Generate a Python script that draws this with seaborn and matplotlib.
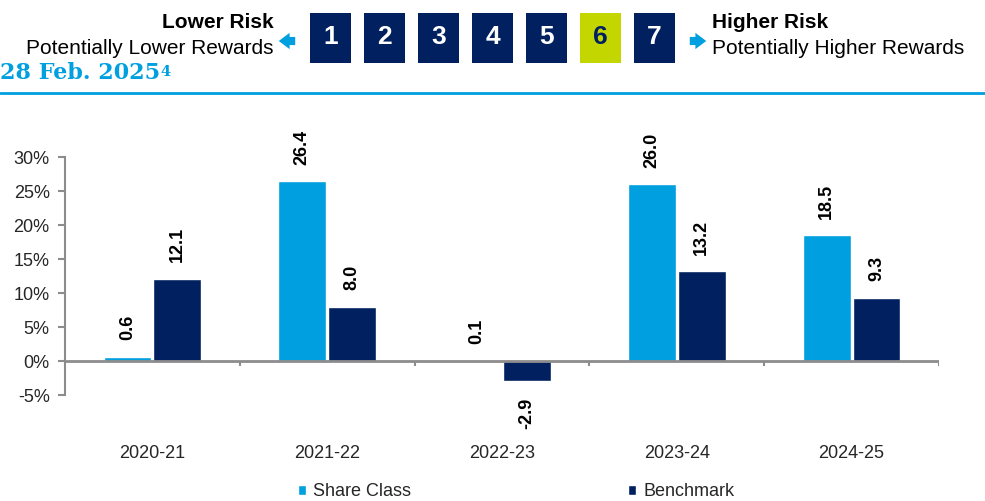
import pandas as pd
import matplotlib.pyplot as plt
import matplotlib.patches as patches
import matplotlib.ticker as mticker
import seaborn as sns

periods = ["2020-21", "2021-22", "2022-23", "2023-24", "2024-25"]
share_class = [0.6, 26.4, 0.1, 26.0, 18.5]
benchmark = [12.1, 8.0, -2.9, 13.2, 9.3]
series_names = ["Share Class", "Benchmark"]
risk_levels = [1, 2, 3, 4, 5, 6, 7]
fund_risk = 6

CYAN = "#009FDF"
NAVY = "#002060"
LIME = "#C4D600"
GREY = "#8C8C8C"

W, H = 985, 501

df = pd.DataFrame({
    "period": periods * 2,
    "value": share_class + benchmark,
    "series": [series_names[0]] * len(periods) + [series_names[1]] * len(periods),
})

sns.set_theme(style="white")
plt.rcParams["font.family"] = ["Liberation Sans", "DejaVu Sans"]

fig = plt.figure(figsize=(W / 100, H / 100), dpi=100)
ax = fig.add_axes([65 / W, 1 - 395 / H, 874 / W, (395 - 157) / H])

sns.barplot(
    data=df,
    x="period",
    y="value",
    hue="series",
    palette=[CYAN, NAVY],
    width=0.57,
    gap=0.04,
    saturation=1,
    ax=ax
)

for container in ax.containers:
    ax.bar_label(
        container,
        fmt="%.1f",
        rotation=90,
        padding=12,
        fontsize=13,
        fontweight="bold",
        color="black"
    )

ax.set_xlim(-0.5, len(periods) - 0.5)
ax.set_ylim(-5, 30)
ax.yaxis.set_major_locator(mticker.MultipleLocator(5))
ax.yaxis.set_major_formatter(mticker.FuncFormatter(lambda v, p: f"{v:.0f}%"))
ax.set_xlabel("")
ax.set_ylabel("")

for side in ["top", "right", "bottom"]:
    ax.spines[side].set_visible(False)
ax.spines["left"].set_color(GREY)
ax.spines["left"].set_linewidth(1.5)

ax.tick_params(axis="y", direction="out", length=5, width=1.5, color=GREY,
               labelsize=13, pad=6, left=True)
ax.tick_params(axis="x", length=0, labelsize=13, pad=36)

# zero line with category separators
ax.axhline(0, color=GREY, lw=2, zorder=3)
bounds = [i - 0.5 for i in range(len(periods) + 1)]
ax.vlines(bounds[1:], -0.8, 0, color=GREY, lw=1.5, zorder=3)

sns.move_legend(
    ax, "center",
    bbox_to_anchor=(516 / W, 1 - 492 / H),
    bbox_transform=fig.transFigure,
    ncol=2,
    frameon=False,
    title=None,
    fontsize=13,
    handlelength=0.45,
    handleheight=0.45,
    handletextpad=0.4,
    columnspacing=12
)

# header: risk scale
for i, lvl in enumerate(risk_levels):
    x0 = 310 + i * 54
    face = LIME if lvl == fund_risk else NAVY
    txt = NAVY if lvl == fund_risk else "white"
    fig.add_artist(patches.Rectangle(
        (x0 / W, 1 - 63 / H), 41 / W, 50 / H,
        transform=fig.transFigure, facecolor=face, edgecolor="none"
    ))
    fig.text((x0 + 20.5) / W, 1 - 37 / H, str(lvl), ha="center", va="center",
             fontsize=19, fontweight="bold", color=txt)

fig.text(274 / W, 1 - 23 / H, "Lower Risk", ha="right", va="center",
         fontsize=15, fontweight="bold", color="black")
fig.text(274 / W, 1 - 48 / H, "Potentially Lower Rewards", ha="right", va="center",
         fontsize=15, color="black")
fig.text(712 / W, 1 - 23 / H, "Higher Risk", ha="left", va="center",
         fontsize=15, fontweight="bold", color="black")
fig.text(712 / W, 1 - 48 / H, "Potentially Higher Rewards", ha="left", va="center",
         fontsize=15, color="black")

arrow_style = "simple,head_width=0.9,head_length=0.6,tail_width=0.45"
ax.annotate("", xy=(276, H - 41), xytext=(298, H - 41),
            xycoords="figure pixels", textcoords="figure pixels",
            arrowprops=dict(arrowstyle=arrow_style, color=CYAN, mutation_scale=13, lw=0),
            annotation_clip=False)
ax.annotate("", xy=(709, H - 41), xytext=(687, H - 41),
            xycoords="figure pixels", textcoords="figure pixels",
            arrowprops=dict(arrowstyle=arrow_style, color=CYAN, mutation_scale=13, lw=0),
            annotation_clip=False)

date_txt = fig.text(0, 1 - 73 / H, "28 Feb. 2025", ha="left", va="center",
                    fontsize=16, fontweight="bold", color=CYAN, family="DejaVu Serif")
ax.annotate("4", xy=(1, 0.85), xycoords=date_txt, xytext=(0.5, 0),
            textcoords="offset points", ha="left", va="top",
            fontsize=10.5, fontweight="bold", color=CYAN, family="DejaVu Serif",
            annotation_clip=False)

fig.add_artist(plt.Line2D([0, 1], [1 - 93 / H, 1 - 93 / H],
                          transform=fig.transFigure, color=CYAN, lw=2))

plt.savefig("out.png", dpi=100)
